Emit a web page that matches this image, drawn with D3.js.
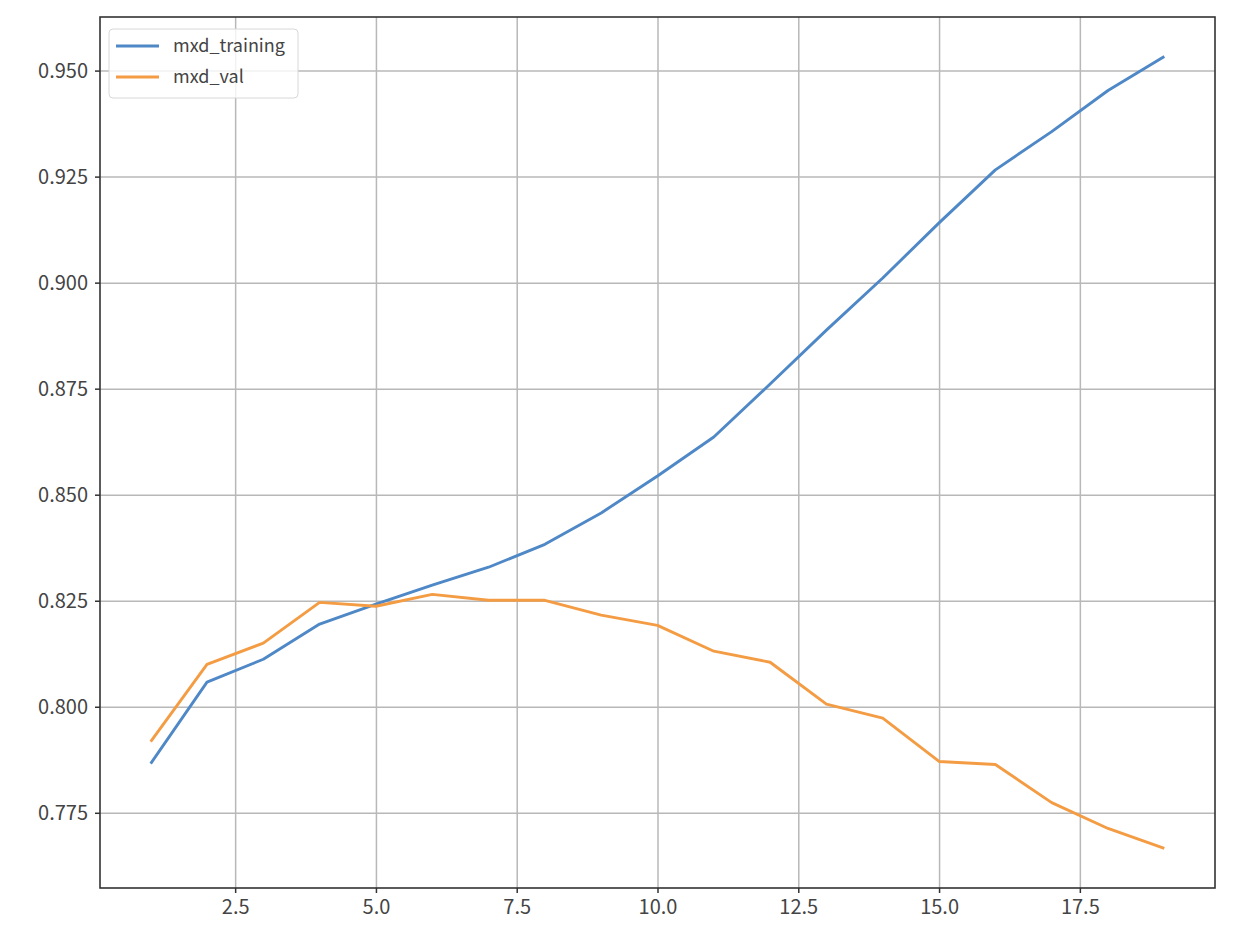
<!DOCTYPE html>
<html>
<head>
<meta charset="utf-8">
<script src="https://cdn.jsdelivr.net/npm/d3@7"></script>
<style>
  body { margin: 0; background: #fff; }
  text { font-family: "Noto Sans CJK KR", "Noto Sans", sans-serif; }
</style>
</head>
<body>
<div id="chart"></div>
<script>
// data
var epochs = [1, 2, 3, 4, 5, 6, 7, 8, 9, 10, 11, 12, 13, 14, 15, 16, 17, 18, 19];
var mxdTraining = [0.7866, 0.8058, 0.8112, 0.8195, 0.8242, 0.8287, 0.8329, 0.8383, 0.8457, 0.8544,
  0.8636, 0.8761, 0.8888, 0.9011, 0.9141, 0.9266, 0.9356, 0.9453, 0.9533];
var mxdVal = [0.7918, 0.8100, 0.8150, 0.8246, 0.8237, 0.8265, 0.8251, 0.8251, 0.8216, 0.8192,
  0.8131, 0.8105, 0.8006, 0.7973, 0.7871, 0.7864, 0.7774, 0.7713, 0.7666];
var xTicks = [2.5, 5.0, 7.5, 10.0, 12.5, 15.0, 17.5];
var yTicks = [0.775, 0.800, 0.825, 0.850, 0.875, 0.900, 0.925, 0.950];
var seriesNames = ["mxd_training", "mxd_val"];
var seriesColors = ["#4f88c6", "#f49c44"];

var svgWidth = 1244;
var svgHeight = 940;
var margin = { top: 17, right: 29, bottom: 52, left: 100 };
var width = svgWidth - margin.left - margin.right;
var height = svgHeight - margin.top - margin.bottom;

var svg = d3.select("#chart")
  .append("svg")
  .attr("width", svgWidth)
  .attr("height", svgHeight);

var chartGroup = svg.append("g")
  .attr("transform", `translate(${margin.left}, ${margin.top})`);

// matplotlib-style 5% padding
var xPad = (d3.max(epochs) - d3.min(epochs)) * 0.05;
var allY = mxdTraining.concat(mxdVal);
var yPad = (d3.max(allY) - d3.min(allY)) * 0.05;

var xScale = d3.scaleLinear()
  .domain([d3.min(epochs) - xPad, d3.max(epochs) + xPad])
  .range([0, width]);
var yScale = d3.scaleLinear()
  .domain([d3.min(allY) - yPad, d3.max(allY) + yPad])
  .range([height, 0]);

// grid
chartGroup.append("g")
  .attr("class", "grid")
  .attr("transform", `translate(0, ${height})`)
  .call(d3.axisBottom(xScale).tickValues(xTicks).tickSize(-height).tickFormat(""));
chartGroup.append("g")
  .attr("class", "grid")
  .call(d3.axisLeft(yScale).tickValues(yTicks).tickSize(-width).tickFormat(""));
chartGroup.selectAll(".grid .domain").remove();
chartGroup.selectAll(".grid line")
  .attr("stroke", "#b8b8b8")
  .attr("stroke-width", 1.5);

// lines
var series = [mxdTraining, mxdVal];
var line = d3.line()
  .x((d, i) => xScale(epochs[i]))
  .y(d => yScale(d));

chartGroup.selectAll(".series")
  .data(series)
  .enter()
  .append("path")
  .attr("class", "series")
  .attr("d", d => line(d))
  .attr("fill", "none")
  .attr("stroke", (d, i) => seriesColors[i])
  .attr("stroke-width", 2.9)
  .attr("stroke-linejoin", "round");

// axes
var bottomAxis = d3.axisBottom(xScale).tickValues(xTicks).tickFormat(d3.format(".1f")).tickSize(5).tickPadding(7);
var leftAxis = d3.axisLeft(yScale).tickValues(yTicks).tickFormat(d3.format(".3f")).tickSize(5).tickPadding(7);

var xAxisG = chartGroup.append("g")
  .attr("transform", `translate(0, ${height})`)
  .call(bottomAxis);
var yAxisG = chartGroup.append("g")
  .call(leftAxis);

[xAxisG, yAxisG].forEach(function(g) {
  g.select(".domain").remove();
  g.selectAll("line").attr("stroke", "#333").attr("stroke-width", 1.5);
  g.selectAll("text").attr("fill", "#444").attr("font-size", 20);
});
yAxisG.selectAll("text").attr("dy", "0.36em");

// frame
chartGroup.append("rect")
  .attr("width", width)
  .attr("height", height)
  .attr("fill", "none")
  .attr("stroke", "#333")
  .attr("stroke-width", 1.6);

// legend
var legend = chartGroup.append("g")
  .attr("transform", "translate(9, 12)");
legend.append("rect")
  .attr("width", 189)
  .attr("height", 69)
  .attr("rx", 4)
  .attr("fill", "#fff")
  .attr("fill-opacity", 0.8)
  .attr("stroke", "#d8d8d8");

var legendItems = legend.selectAll(".item")
  .data(seriesNames)
  .enter()
  .append("g")
  .attr("class", "item")
  .attr("transform", (d, i) => `translate(0, ${17 + i * 31})`);
legendItems.append("line")
  .attr("x1", 7)
  .attr("x2", 50)
  .attr("stroke", (d, i) => seriesColors[i])
  .attr("stroke-width", 2.9);
legendItems.append("text")
  .attr("x", 64)
  .attr("dy", "0.35em")
  .attr("font-size", 18)
  .attr("fill", "#444")
  .text(d => d);
</script>
</body>
</html>
